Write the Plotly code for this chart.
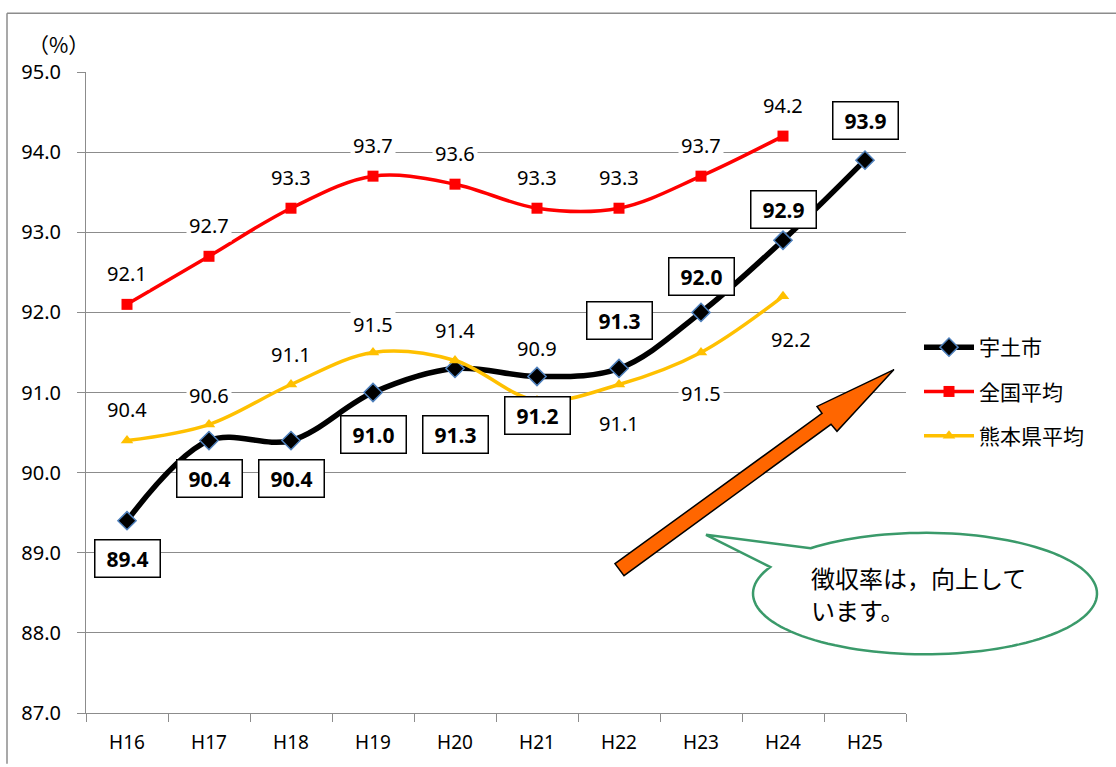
import math
import plotly.graph_objects as go

categories = ["H16", "H17", "H18", "H19", "H20", "H21", "H22", "H23", "H24", "H25"]
uto_city = [89.4, 90.4, 90.4, 91.0, 91.3, 91.2, 91.3, 92.0, 92.9, 93.9]
national_avg = [92.1, 92.7, 93.3, 93.7, 93.6, 93.3, 93.3, 93.7, 94.2, None]
kumamoto_avg = [90.4, 90.6, 91.1, 91.5, 91.4, 90.9, 91.1, 91.5, 92.2, None]
callout_lines = ["徴収率は，向上して", "います。"]

# label offsets (pixels) - styling only
uto_label_shift = [(0, -38), (0, -38), (0, -38), (0, -42), (0, -66), (0, -39), (0, 48), (0, 36), (0, 31), (0, 40)]
nat_label_shift = [(0, 31)] * 9
kum_label_shift = [(0, 31), (0, 29), (0, 30), (0, 28), (0, 30), (0, 52), (0, -39), (0, -41), (8, -43)]

W, H = 1116, 767
L, R, T, B = 86, 906, 72, 716


def px(x):
    return (x - L) / (R - L)


def py(y):
    return (B - y) / (B - T)


NUM_FONT = "Noto Sans, DejaVu Sans, sans-serif"
JP_FONT = "Noto Sans CJK JP, Noto Sans, sans-serif"

fig = go.Figure()
fig.add_trace(go.Scatter(
    x=categories, y=uto_city, name="宇土市", mode="lines+markers",
    line=dict(color="black", width=5.5, shape="spline", smoothing=1),
    marker=dict(symbol="diamond", size=14, color="black", line=dict(color="#4F81BD", width=1.5)),
    legendgroup="a",
))
fig.add_trace(go.Scatter(
    x=categories, y=national_avg, name="全国平均", mode="lines+markers",
    line=dict(color="#FF0000", width=3.5, shape="spline", smoothing=1),
    marker=dict(symbol="square", size=11, color="#FF0000"),
    legendgroup="b",
))
fig.add_trace(go.Scatter(
    x=categories, y=kumamoto_avg, name="熊本県平均", mode="lines+markers",
    line=dict(color="#FFC000", width=3.5, shape="spline", smoothing=1),
    marker=dict(symbol="triangle-up", size=11, color="#FFC000"),
    legendgroup="c",
))

annotations = []
for c, v, (dx, dy) in zip(categories, national_avg, nat_label_shift):
    if v is None:
        continue
    annotations.append(dict(x=c, y=v, xref="x", yref="y", text=f"{v:.1f}", showarrow=False,
                            xshift=dx, yshift=dy, bgcolor="white", borderpad=2,
                            font=dict(family=NUM_FONT, size=20, color="black")))
for c, v, (dx, dy) in zip(categories, kumamoto_avg, kum_label_shift):
    if v is None:
        continue
    annotations.append(dict(x=c, y=v, xref="x", yref="y", text=f"{v:.1f}", showarrow=False,
                            xshift=dx, yshift=dy, bgcolor="white", borderpad=2,
                            font=dict(family=NUM_FONT, size=20, color="black")))
for c, v, (dx, dy) in zip(categories, uto_city, uto_label_shift):
    annotations.append(dict(x=c, y=v, xref="x", yref="y", text=f"<b>{v:.1f}</b>", showarrow=False,
                            xshift=dx, yshift=dy, bgcolor="white", bordercolor="black",
                            borderwidth=1.5, borderpad=4, width=56, height=28,
                            font=dict(family=NUM_FONT, size=21, color="black")))

annotations.append(dict(x=px(58), y=py(44), xref="paper", yref="paper", text="（%）", showarrow=False,
                        xanchor="center", yanchor="middle",
                        font=dict(family=JP_FONT, size=21, color="black")))
for line_text, ly in zip(callout_lines, [580, 612]):
    annotations.append(dict(x=px(809), y=py(ly), xref="paper", yref="paper",
                            text=line_text, showarrow=False, align="left",
                            xanchor="left", yanchor="middle",
                            font=dict(family=JP_FONT, size=24, color="black")))

shapes = []
# outer frame
shapes.append(dict(type="line", xref="paper", yref="paper", x0=px(7), y0=py(13), x1=px(1116), y1=py(13),
                   line=dict(color="#8c8c8c", width=1.5)))
shapes.append(dict(type="line", xref="paper", yref="paper", x0=px(7), y0=py(13), x1=px(7), y1=py(767),
                   line=dict(color="#8c8c8c", width=1.5)))

# block arrow
arrow_pts = [(615, 566), (822, 415), (817, 408), (894, 371), (837, 433), (831, 426), (624, 578)]
path = "M " + " L ".join(f"{px(x):.5f},{py(y):.5f}" for x, y in arrow_pts) + " Z"
shapes.append(dict(type="path", xref="paper", yref="paper", path=path, fillcolor="#FF6600",
                   line=dict(color="black", width=1.5), layer="above"))

# callout ellipse with tail
cx, cy, rx, ry = 925, 596, 172, 61
b1 = (812, 551)
b2 = (774, 570)
tip = (706, 537)
a1 = math.atan2((b1[1] - cy) / ry, (b1[0] - cx) / rx)
a2 = math.atan2((b2[1] - cy) / ry, (b2[0] - cx) / rx)
end = a2 + 2 * math.pi if a2 < a1 else a2
n = 120
pts = []
for i in range(n + 1):
    a = a1 + (end - a1) * i / n
    pts.append((cx + rx * math.cos(a), cy + ry * math.sin(a)))
pts.append(tip)
cpath = "M " + " L ".join(f"{px(x):.5f},{py(y):.5f}" for x, y in pts) + " Z"
shapes.append(dict(type="path", xref="paper", yref="paper", path=cpath, fillcolor="white",
                   line=dict(color="#3A9A6A", width=2.5), layer="above"))

fig.update_layout(
    width=W, height=H,
    margin=dict(l=L, r=W - R, t=T, b=H - B),
    paper_bgcolor="white", plot_bgcolor="white",
    showlegend=True,
    legend=dict(x=px(919), y=py(393), xanchor="left", yanchor="middle",
                font=dict(family=JP_FONT, size=21, color="black"),
                tracegroupgap=14, itemwidth=50, bgcolor="rgba(0,0,0,0)"),
    annotations=annotations,
    shapes=shapes,
    xaxis=dict(type="category", range=[-0.5, 9.5], showline=True, linecolor="#8c8c8c", linewidth=1,
               ticks="outside", tickson="boundaries", ticklen=8, tickcolor="#8c8c8c",
               showgrid=False, ticklabelstandoff=12,
               tickfont=dict(family=NUM_FONT, size=19, color="black")),
    yaxis=dict(range=[87, 95], dtick=1, tickformat=".1f", showline=True, linecolor="#8c8c8c",
               linewidth=1, ticks="outside", ticklen=8, tickcolor="#8c8c8c",
               showgrid=True, gridcolor="#8c8c8c", gridwidth=1, zeroline=False,
               ticklabelstandoff=12,
               tickfont=dict(family=NUM_FONT, size=20, color="black")),
)

fig.write_html("out.html", config={"displayModeBar": False},
               post_script="document.body.style.margin='0';document.body.style.overflow='hidden';")
